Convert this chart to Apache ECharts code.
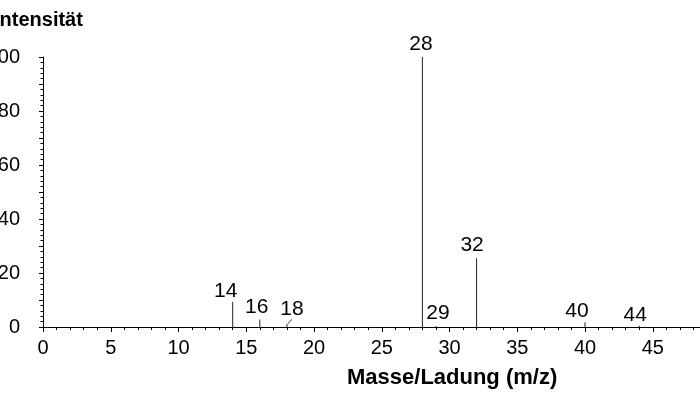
<!DOCTYPE html>
<html>
<head>
<meta charset="utf-8">
<script src="https://cdn.jsdelivr.net/npm/echarts@6/dist/echarts.min.js"></script>
<style>html,body{margin:0;padding:0;background:#fff;}#c{width:700px;height:400px;}</style>
</head>
<body>
<div id="c"></div>
<script>
var masses = [14, 16, 18, 28, 29, 32, 40, 44];
var intensities = [9.3, 2.8, 1.0, 100, 0.4, 25.5, 1.8, 0.5];
var peakLabels = ['14', '16', '18', '28', '29', '32', '40', '44'];
var xTitle = 'Masse/Ladung (m/z)';
var yTitle = 'Intensität';

// label nudges in pixels (styling only)
var labelShift = [[-7, 1.5], [-3, 0], [5, -3], [-1.5, 0], [2, 0], [-4.5, 0], [-8, 1.5], [-4, 2]];

var font = 'Liberation Sans, Arial, sans-serif';
var data = masses.map(function (m, i) {
  var item = { value: [m, intensities[i]] };
  if (i === 2) {
    item.labelLine = { show: true, lineStyle: { color: '#333', width: 1 } };
  }
  return item;
});

var chart = echarts.init(document.getElementById('c'), null, { renderer: 'canvas' });
chart.setOption({
  animation: false,
  backgroundColor: '#fff',
  title: [
    { text: xTitle, left: 342, top: 362, textStyle: { fontFamily: font, fontWeight: 'bold', fontSize: 22, color: '#000' } }
  ],
  graphic: [
    { type: 'text', x: -6, y: 10, style: { text: yTitle, font: 'bold 20px ' + font, fill: '#000' } }
  ],
  grid: { left: 43, top: 57, width: 677.5, height: 270, containLabel: false, outerBoundsMode: 'none' },
  xAxis: {
    type: 'value', min: 0, max: 50, interval: 5,
    axisLine: { lineStyle: { color: '#000', width: 1 } },
    axisTick: { show: true, length: 5, lineStyle: { color: '#000' } },
    minorTick: { show: true, splitNumber: 5, length: 3, lineStyle: { color: '#000' } },
    splitLine: { show: false },
    axisLabel: { fontFamily: font, fontSize: 20, color: '#000', margin: 11 }
  },
  yAxis: {
    type: 'value', min: 0, max: 100, interval: 10,
    axisLine: { show: true, lineStyle: { color: '#000', width: 1 } },
    axisTick: { show: true, length: 4, lineStyle: { color: '#000' } },
    minorTick: { show: true, splitNumber: 5, length: 2.5, lineStyle: { color: '#000' } },
    splitLine: { show: false },
    axisLabel: {
      fontFamily: font, fontSize: 20, color: '#000', margin: 23,
      formatter: function (v) { return v % 20 === 0 ? String(v) : ''; }
    }
  },
  series: [{
    type: 'bar',
    barWidth: 1,
    itemStyle: { color: '#222' },
    data: data,
    label: {
      show: true, position: 'top', distance: 2,
      fontFamily: font, fontSize: 21, color: '#000',
      formatter: function (p) { return peakLabels[p.dataIndex]; }
    },
    labelLayout: function (p) {
      var s = labelShift[p.dataIndex];
      return { dx: s[0], dy: s[1] };
    }
  }]
});
</script>
</body>
</html>
